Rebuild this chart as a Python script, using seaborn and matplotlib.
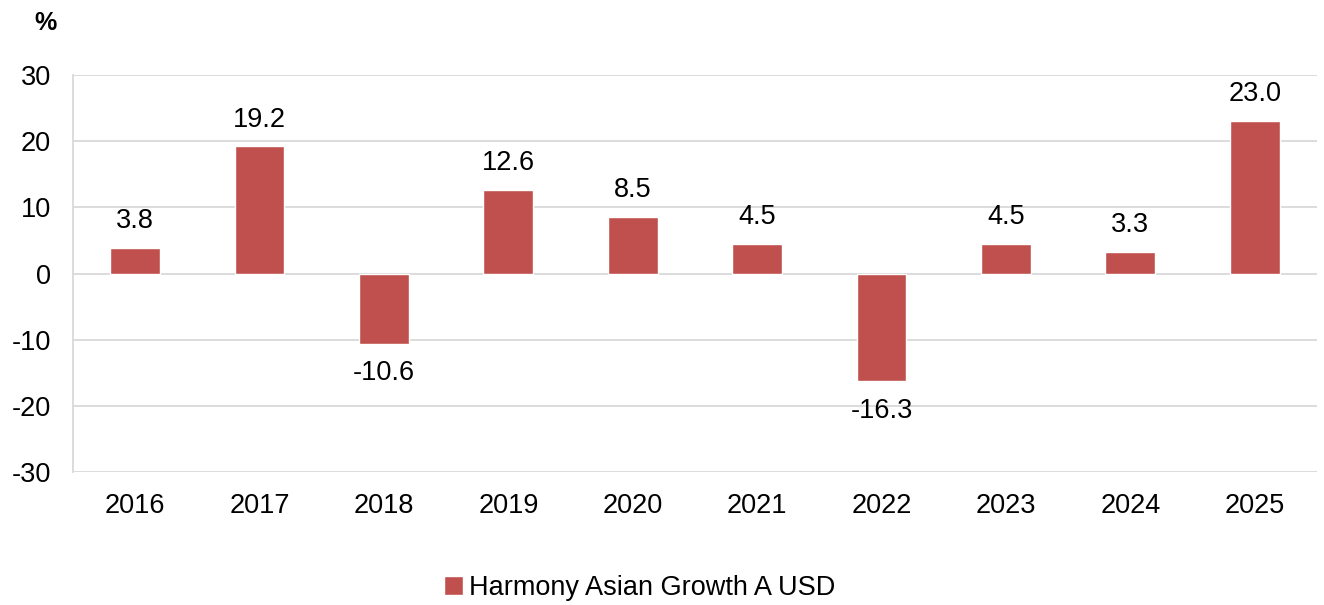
import numpy as np
import pandas as pd
import matplotlib
matplotlib.use("Agg")
import matplotlib.pyplot as plt
import seaborn as sns
from matplotlib.patches import Patch

years = ["2016", "2017", "2018", "2019", "2020", "2021", "2022", "2023", "2024", "2025"]
returns = [3.8, 19.2, -10.6, 12.6, 8.5, 4.5, -16.3, 4.5, 3.3, 23.0]
series_name = "Harmony Asian Growth A USD"

df = pd.DataFrame({"Year": years, "Return": returns})

sns.set_style("white")
plt.rcParams['font.family'] = ['Liberation Sans', 'DejaVu Sans']
plt.rcParams['axes.unicode_minus'] = False
plt.rcParams['text.color'] = 'black'
plt.rcParams['xtick.color'] = 'black'
plt.rcParams['ytick.color'] = 'black'

bar_color = "#C0504D"
grid_color = "#D9D9D9"
fs = 19.5

fig = plt.figure(figsize=(13.24, 6.05), dpi=100)
ax = fig.add_axes([0.0551, 0.2198, 0.9396, 0.6562])

sns.barplot(data=df, x="Year", y="Return", color=bar_color, width=0.4,
            saturation=1, ax=ax)

ax.set_ylim(-30, 30)
ax.set_yticks(range(-30, 31, 10))
ax.yaxis.grid(True, color=grid_color, linewidth=1.3)
ax.set_axisbelow(True)
for s in ["top", "right", "bottom"]:
    ax.spines[s].set_visible(False)
ax.spines["left"].set_color(grid_color)
ax.spines["left"].set_linewidth(1.3)
ax.tick_params(axis="both", length=0, labelsize=fs, labelcolor="black")
ax.tick_params(axis="y", pad=16)
ax.tick_params(axis="x", pad=15)
ax.set_xlabel("")
ax.set_ylabel("")

# value labels
for i, v in enumerate(returns):
    if v >= 0:
        ax.annotate(f"{v:.1f}", (i, v), xytext=(0, 10), textcoords="offset points",
                    ha="center", va="bottom", fontsize=fs, color="black")
    else:
        ax.annotate(f"{v:.1f}", (i, v), xytext=(0, -12), textcoords="offset points",
                    ha="center", va="top", fontsize=fs, color="black")

fig.text(0.034, 0.962, "%", fontsize=18, fontweight="bold", ha="center", va="center",
         color="black")

handles = [Patch(facecolor=bar_color, label=series_name)]
fig.legend(handles=handles, loc="center", bbox_to_anchor=(0.483, 0.028), frameon=False,
           fontsize=fs, handlelength=0.7, handleheight=0.7, handletextpad=0.2)

fig.savefig("out.png", dpi=100)
